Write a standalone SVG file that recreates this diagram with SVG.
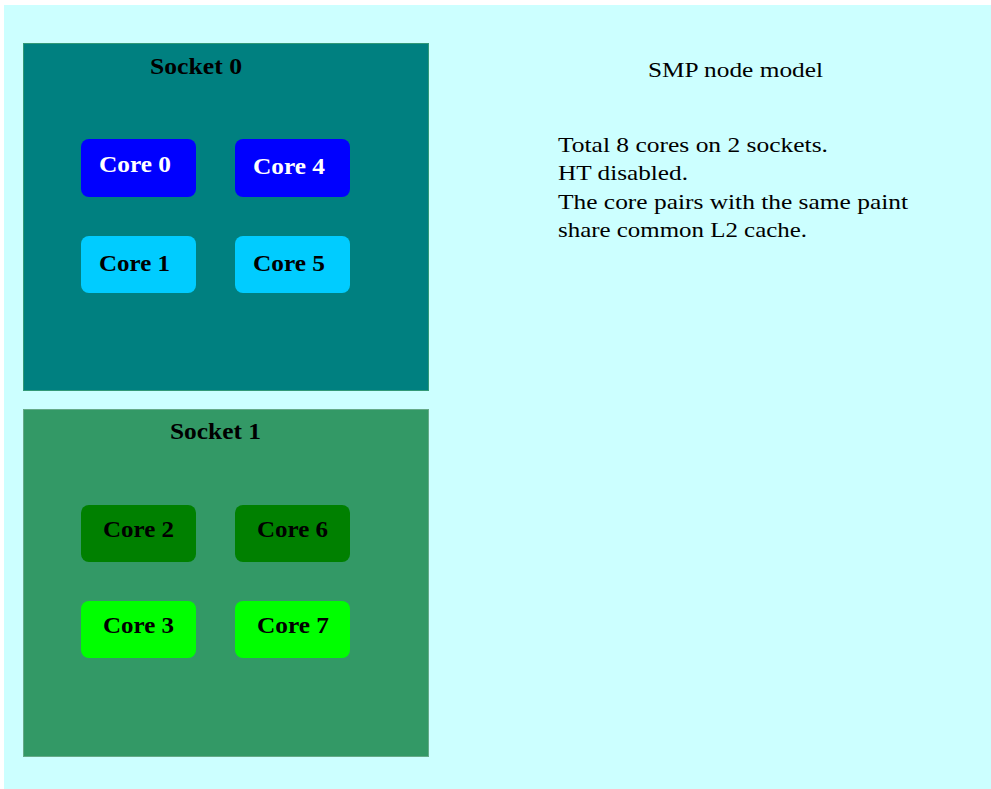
<svg xmlns="http://www.w3.org/2000/svg" width="991" height="789" viewBox="0 0 991 789">
<style>
.lbl{font-family:"Liberation Serif","Times New Roman",serif;font-weight:bold;font-size:23px}
.txt{font-family:"Liberation Serif","Times New Roman",serif;font-size:21px;fill:#000}
.core{stroke:none}
</style>
<rect x="0" y="0" width="991" height="789" fill="#ffffff"/>
<rect x="4" y="5" width="987" height="784" fill="#ccffff"/>
<g id="socket0">
<rect x="23.5" y="43.5" width="405" height="347" fill="#008080" stroke="#339977" stroke-width="1"/>
<text class="lbl" x="150" y="74" textLength="92" lengthAdjust="spacingAndGlyphs">Socket 0</text>
</g>
<g id="socket1">
<rect x="23.5" y="409.5" width="405" height="347" fill="#339966" stroke="#66aa88" stroke-width="1"/>
<text class="lbl" x="170" y="439" textLength="91" lengthAdjust="spacingAndGlyphs">Socket 1</text>
</g>
<g id="core0"><rect class="core" x="81" y="139" width="115" height="58" rx="8" fill="#0000ff"/><text class="lbl" x="99" y="172" fill="#ffffff" textLength="72" lengthAdjust="spacingAndGlyphs">Core 0</text></g>
<g id="core4"><rect class="core" x="235" y="139" width="115" height="58" rx="8" fill="#0000ff"/><text class="lbl" x="253" y="174" fill="#ffffff" textLength="72" lengthAdjust="spacingAndGlyphs">Core 4</text></g>
<g id="core1"><rect class="core" x="81" y="236" width="115" height="57" rx="8" fill="#00ccff"/><text class="lbl" x="99" y="271" fill="#000" textLength="71" lengthAdjust="spacingAndGlyphs">Core 1</text></g>
<g id="core5"><rect class="core" x="235" y="236" width="115" height="57" rx="8" fill="#00ccff"/><text class="lbl" x="253" y="271" fill="#000" textLength="72" lengthAdjust="spacingAndGlyphs">Core 5</text></g>
<g id="core2"><rect class="core" x="81" y="505" width="115" height="57" rx="8" fill="#008000"/><text class="lbl" x="103" y="537" fill="#000" textLength="71" lengthAdjust="spacingAndGlyphs">Core 2</text></g>
<g id="core6"><rect class="core" x="235" y="505" width="115" height="57" rx="8" fill="#008000"/><text class="lbl" x="257" y="537" fill="#000" textLength="71" lengthAdjust="spacingAndGlyphs">Core 6</text></g>
<g id="core3"><rect class="core" x="81" y="601" width="115" height="57" rx="8" fill="#00ff00"/><text class="lbl" x="103" y="633" fill="#000" textLength="71" lengthAdjust="spacingAndGlyphs">Core 3</text></g>
<g id="core7"><rect class="core" x="235" y="601" width="115" height="57" rx="8" fill="#00ff00"/><text class="lbl" x="257" y="633" fill="#000" textLength="72" lengthAdjust="spacingAndGlyphs">Core 7</text></g>
<g id="connectors"/>
<g id="notes">
<text class="txt" x="648" y="77" textLength="175" lengthAdjust="spacingAndGlyphs">SMP node model</text>
<text class="txt" x="558" y="152" textLength="270" lengthAdjust="spacingAndGlyphs">Total 8 cores on 2 sockets.</text>
<text class="txt" x="558" y="180" textLength="130" lengthAdjust="spacingAndGlyphs">HT disabled.</text>
<text class="txt" x="558" y="209" textLength="350" lengthAdjust="spacingAndGlyphs">The core pairs with the same paint</text>
<text class="txt" x="558" y="237" textLength="249" lengthAdjust="spacingAndGlyphs">share common L2 cache.</text>
</g>
</svg>
